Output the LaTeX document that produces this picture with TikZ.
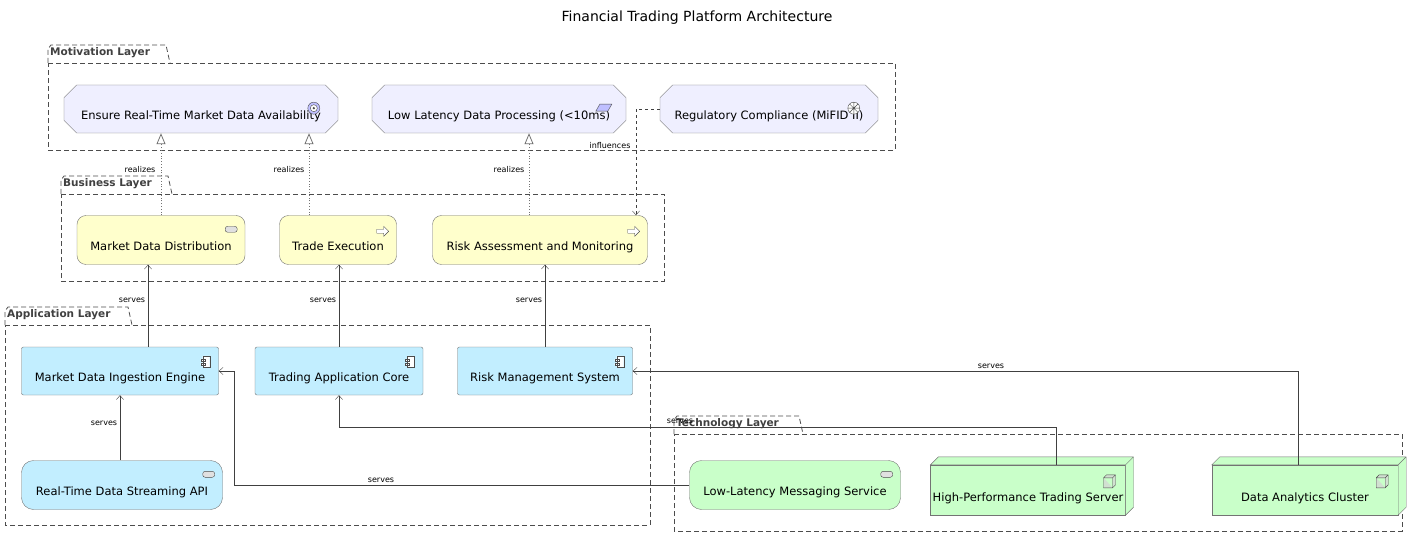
\documentclass[tikz,border=0pt]{standalone}
\usepackage{fontspec}
\setmainfont{DejaVu Sans}
\usetikzlibrary{arrows.meta,shapes.misc}
\definecolor{motfill}{RGB}{239,239,255}
\definecolor{busfill}{RGB}{255,255,204}
\definecolor{appfill}{RGB}{194,238,255}
\definecolor{techfill}{RGB}{201,255,201}
\tikzset{
	elem/.style={draw=black!55,font=\fontsize{11.5}{13}\selectfont,inner sep=2pt,text height=21pt,text depth=0pt},
	motbox/.style={elem,chamfered rectangle,chamfered rectangle xsep=9pt,fill=motfill,minimum height=48pt},
	busbox/.style={elem,rounded corners=9pt,fill=busfill,minimum height=49pt},
	appbox/.style={elem,rounded corners=2pt,fill=appfill,minimum height=48pt},
	svcbox/.style={elem,rounded corners=12pt,minimum height=49pt},
	techbox/.style={elem,fill=techfill,minimum height=50pt,text height=23pt},
	layer/.style={draw=black!70,thick,dash pattern=on 5pt off 3pt},
	layername/.style={font=\fontsize{10.5}{12}\selectfont\bfseries,text=black!75,anchor=south west,inner sep=2pt},
	lbl/.style={font=\fontsize{8}{9}\selectfont,inner sep=1pt},
	ico/.style={black!70,fill=white},
	rel/.style={draw=black!55,dotted,thick,-{Triangle[open,width=9pt,length=11pt]}},
	srv/.style={draw=black!75,-{Straight Barb[length=4pt,width=7pt]}},
	infl/.style={draw=black!75,dashed,-{Straight Barb[length=4pt,width=7pt]}}
}
\begin{document}
\begin{tikzpicture}[x=1pt,y=-1pt]
	\useasboundingbox (0,0) rectangle (1411,540);
	\node[font=\fontsize{14}{16}\selectfont] (title) at (697,18) {Financial Trading Platform Architecture};
	%layers
	\foreach \xa/\ya/\xb/\yb/\tab/\name in {48/63/895/150/170/Motivation Layer,61/194/664/281/172/Business Layer,5/325/650/525/132/Application Layer,674/434/1402/531/803/Technology Layer}{
		\draw[layer] (\xa,\ya) -- (\xb,\ya) -- (\xb,\yb) -- (\xa,\yb) -- cycle;
		\draw[layer] (\xa,\ya) -- (\xa,\ya-14) -- ++(3,-4) -- (\tab-4,\ya-18) -- (\tab,\ya);
		\node[layername] at (\xa,\ya-3) {\name};
	}
	%motivation
	\node[motbox,minimum width=274pt] (avail) at (201,109) {Ensure Real-Time Market Data Availability};
	\node[motbox,minimum width=254pt] (latency) at (499,109) {Low Latency Data Processing (<10ms)};
	\node[motbox,minimum width=218pt] (mifid) at (769,109) {Regulatory Compliance (MiFID II)};
	%business
	\node[busbox,minimum width=168pt] (distrib) at (161,240) {Market Data Distribution};
	\node[busbox,minimum width=117pt] (exec) at (338,240) {Trade Execution};
	\node[busbox,minimum width=215pt] (risk) at (540,240) {Risk Assessment and Monitoring};
	%application
	\node[appbox,minimum width=197pt] (ingest) at (120,371) {Market Data Ingestion Engine};
	\node[appbox,minimum width=168pt] (core) at (339,371) {Trading Application Core};
	\node[appbox,minimum width=175pt] (rms) at (545,371) {Risk Management System};
	\node[svcbox,fill=appfill,minimum width=201pt] (stream) at (122,485) {Real-Time Data Streaming API};
	%technology
	\node[svcbox,fill=techfill,minimum width=211pt] (msg) at (795,485) {Low-Latency Messaging Service};
	\node[techbox,minimum width=184pt] (server) at (1028,490) {High-Performance Trading Server};
	\node[techbox,minimum width=186pt] (cluster) at (1305,490) {Data Analytics Cluster};
	\foreach \n in {server,cluster}
	\draw[draw=black!55,fill=techfill] (\n.north west) -- ++(8,-8) -| ([xshift=8pt,yshift=8pt]\n.south east) -- (\n.south east) -- (\n.north east) -- cycle (\n.north east) -- ++(8,-8);
	%icons
	\begin{scope}[shift={(avail.north east)}]
		\draw[ico,fill=blue!25] (-18,17) circle (6pt);
		\draw[ico] (-18,17) circle (3.5pt);
		\fill[black!70] (-18,17) circle (1.3pt);
	\end{scope}
	\draw[ico,fill=blue!25,shift={(latency.north east)}] (-20,13) -- (-8,13) -- (-12,20) -- (-24,20) -- cycle;
	\draw[ico,shift={(mifid.north east)}] (-18,17) circle (6pt) (-24,17) -- (-12,17) (-18,11) -- (-18,23)
		(-22.2,12.8) -- (-13.8,21.2) (-22.2,21.2) -- (-13.8,12.8);
	\foreach \n in {distrib,stream,msg}
	\draw[ico,rounded corners=2.5pt,fill=black!12,shift={(\n.north east)}] (-20,11) rectangle (-8,17);
	\foreach \n in {exec,risk}
	\draw[ico,shift={(\n.north east)}] (-20,14) -- (-13,14) -- (-13,11) -- (-8,16) -- (-13,21) -- (-13,18) -- (-20,18) -- cycle;
	\foreach \n in {ingest,core,rms}
	\draw[ico,shift={(\n.north east)}] (-16,9) rectangle (-9,20) (-18,12) rectangle (-14,14) (-18,16) rectangle (-14,18);
	\foreach \n in {server,cluster}
	\draw[ico,fill=techfill!70!black!40,shift={(\n.north east)}] (-22,13) rectangle (-13,23) (-22,13) -- (-19,10) -- (-10,10) -- (-10,20) -- (-13,23) (-13,13) -- (-10,10);
	%realizes
	\draw[rel] (distrib.north -| 161,0) -- (avail.south -| 161,0);
	\draw[rel] (exec.north -| 309,0) -- (avail.south -| 309,0);
	\draw[rel] (risk.north -| 529,0) -- (latency.south -| 529,0);
	\node[lbl] at (140,170) {realizes};
	\node[lbl] at (289,170) {realizes};
	\node[lbl] at (509,170) {realizes};
	%influences
	\draw[infl] (mifid.west) -- (636,109) -- (risk.north -| 636,0);
	\node[lbl] at (610,146) {influences};
	%serves
	\draw[srv] (ingest.north -| 148,0) -- (distrib.south -| 148,0);
	\draw[srv] (core.north) -- (exec.south -| core.north);
	\draw[srv] (rms.north) -- (risk.south -| rms.north);
	\draw[srv] (stream.north -| 120,0) -- (ingest.south -| 120,0);
	\draw[srv] (msg.west) -- (234,485) -- (234,371) -- (ingest.east);
	\draw[srv] (server.north -| 1056,0) -- (1056,427) -- (339,427) -- (core.south);
	\draw[srv] (cluster.north -| 1298,0) -- (1298,371) -- (rms.east);
	\node[lbl] at (132,300) {serves};
	\node[lbl] at (323,300) {serves};
	\node[lbl] at (529,300) {serves};
	\node[lbl] at (104,423) {serves};
	\node[lbl] at (381,480) {serves};
	\node[lbl] at (680,421) {serves};
	\node[lbl] at (991,366) {serves};
\end{tikzpicture}
\end{document}
